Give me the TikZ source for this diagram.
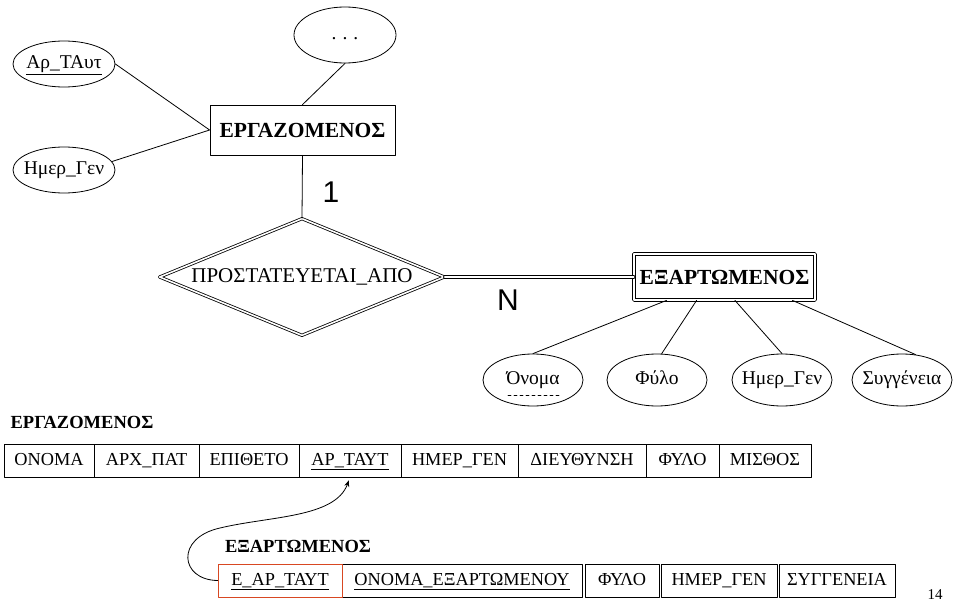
\documentclass[tikz,border=0pt]{standalone}
\usepackage{fontspec}
\setmainfont{Liberation Serif}
\newfontfamily\cardfont{Liberation Sans}
\usetikzlibrary{shapes.geometric,arrows.meta}
\definecolor{keyred}{RGB}{216,72,34}
\begin{document}
\begin{tikzpicture}[x=1pt, y=-1pt, line width=0.8pt, line join=round, line cap=round, >=Stealth,
font=\fontsize{19.5}{22}\selectfont,
ent/.style={draw, minimum width=185, minimum height=50, inner sep=0pt, font=\fontsize{21.5}{24}\selectfont\bfseries},
weak/.style={ent, double, double distance=2.2pt, minimum width=181, minimum height=46},
attr/.style={ellipse, draw, minimum width=102, minimum height=46, inner xsep=-16pt, inner ysep=0pt, text height=13pt, text depth=4pt},
rel/.style={diamond, draw, double, double distance=1.6pt, aspect=2.44, minimum width=285, minimum height=117, inner sep=0pt, font=\fontsize{21}{24}\selectfont},
cell/.style={draw, minimum height=33, inner sep=0pt, text height=13pt, text depth=4pt, font=\fontsize{18.3}{20}\selectfont},
card/.style={font=\cardfont\fontsize{30}{32}\selectfont},
title/.style={font=\fontsize{18.5}{20}\selectfont\bfseries}]
\useasboundingbox (0,0) rectangle (953,607);
%Vẽ sơ đồ
\node[ent] (ergaz) at (302.5,130) {ΕΡΓΑΖΟΜΕΝΟΣ};
\node[weak] (dep) at (724.5,277) {ΕΞΑΡΤΩΜΕΝΟΣ};
\node[rel] (rel) at (302,277) {ΠΡΟΣΤΑΤΕΥΕΤΑΙ\_ΑΠΟ};
\node[attr] (artaut) at (64,64) {\underline{Αρ\_ΤΑυτ}};
\node[attr] (hmergen) at (64,170) {Ημερ\_Γεν};
\node[attr, minimum height=56] (more) at (345,35) {.\hspace{6pt}.\hspace{6pt}.};
\foreach \x/\t/\n in {533/Όνομα/onoma, 657/Φύλο/fylo, 782/Ημερ\_Γεν/hmergenB, 902/Συγγένεια/syggeneia}
\node[attr, minimum width=100, minimum height=52] (\n) at (\x,380) {\t};
\draw[dashed, line width=0.6pt] ([xshift=-25pt,yshift=-15pt]onoma.center) -- ([xshift=27pt,yshift=-15pt]onoma.center);
\node[card] (one) at (331,192) {1};
\node[card] (many) at (508,300) {N};
\draw (artaut.east) -- (ergaz.west) (hmergen.10) -- (ergaz.west) (more.south) -- (ergaz.north)
(ergaz.south) -- (rel.north);
\draw[double, double distance=2pt] (rel.east) -- (dep.west);
\foreach \a/\b in {-158/onoma.north, -140/fylo.80, -66/hmergenB.north, -19/syggeneia.62}
\draw (dep.\a) -- (\b);
%Vẽ bảng
\node[title] (empTitle) at (82,422) {ΕΡΓΑΖΟΜΕΝΟΣ};
\foreach \a/\b/\t/\n in {4/94/ΟΝΟΜΑ/onomaA, 94/199/ΑΡΧ\_ΠΑΤ/arxpat, 199/299/ΕΠΙΘΕΤΟ/epitheto, 299/401/\underline{ΑΡ\_ΤΑΥΤ}/artayt, 401/518/ΗΜΕΡ\_ΓΕΝ/hmergenA, 518/646/ΔΙΕΥΘΥΝΣΗ/dieythynsh, 646/719/ΦΥΛΟ/fyloA, 719/811/ΜΙΣΘΟΣ/misthos}
\node[cell, minimum width={\b-\a}] (\n) at ({(\a+\b)/2},460.5) {\t};
\node[title] (depTitle) at (298,546) {ΕΞΑΡΤΩΜΕΝΟΣ};
\foreach \a/\b/\t/\n in {342/582/\underline{ΟΝΟΜΑ\_ΕΞΑΡΤΩΜΕΝΟΥ}/onomadep, 585/659/ΦΥΛΟ/fyloB, 661/777/ΗΜΕΡ\_ΓΕΝ/hmergenC, 779/895/ΣΥΓΓΕΝΕΙΑ/syggeneiaB}
\node[cell, minimum width={\b-\a}] (\n) at ({(\a+\b)/2},580.5) {\t};
\node[cell, draw=keyred, minimum width=124] (eartayt) at (280,580.5) {\underline{Ε\_ΑΡ\_ΤΑΥΤ}};
\draw[->, shorten >=3pt] (eartayt.west) .. controls (180,580) and (175,538) .. (220,528)
.. controls (270,516) and (335,518) .. (artayt.south);
\node[font=\fontsize{15}{18}\selectfont] (page) at (935,595) {14};
\end{tikzpicture}
\end{document}
